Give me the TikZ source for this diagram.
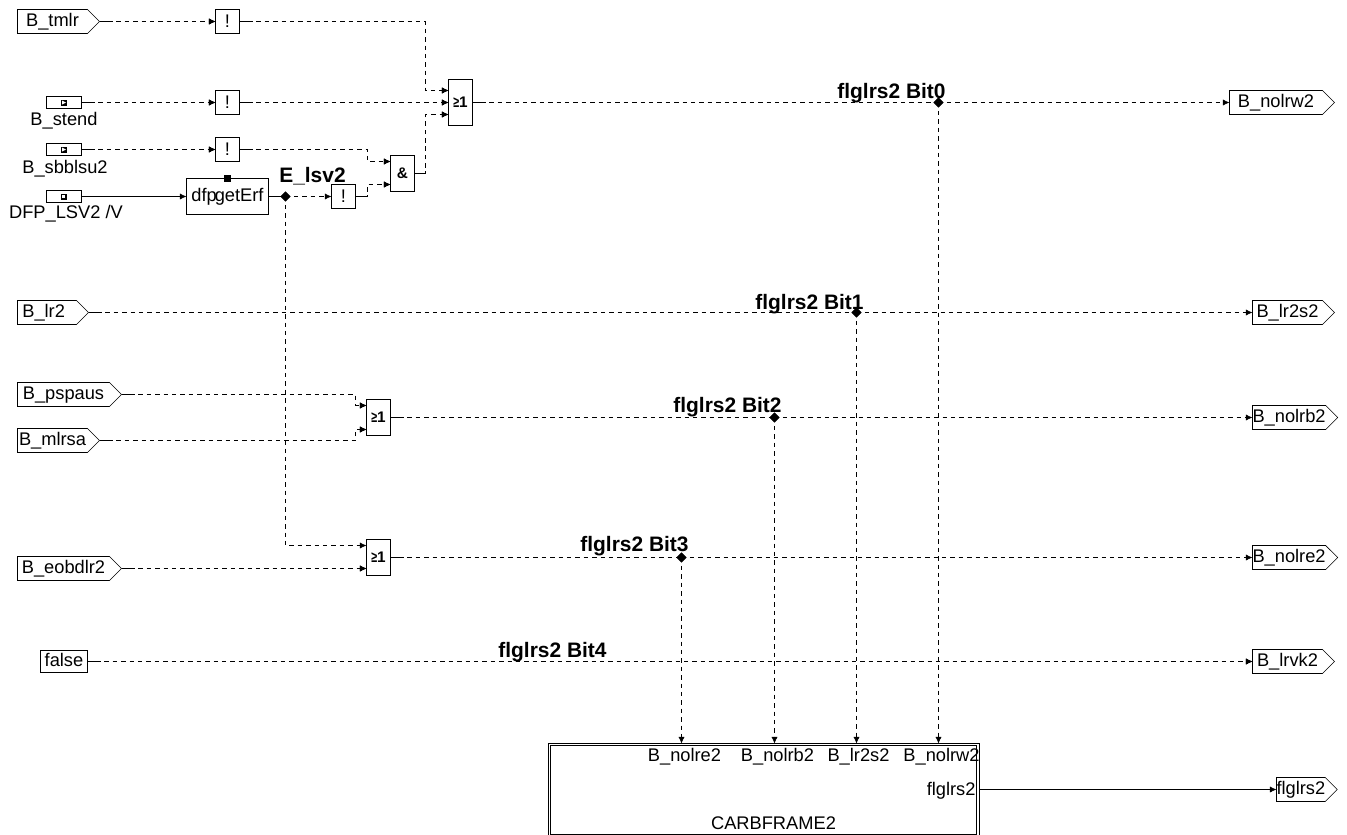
\documentclass[tikz,border=0pt]{standalone}
\usepackage{fontspec}
\usepackage{graphicx}
\setmainfont{Liberation Sans}
\usetikzlibrary{arrows.meta,shapes.geometric,shapes.symbols}
\tikzset{
  x=0.75pt,y=-0.75pt,
  every node/.style={font=\fontsize{13.7pt}{15pt}\selectfont,inner sep=0pt,outer sep=0pt},
  line width=0.75pt,
  sig/.style={draw,signal,signal to=east,signal from=nowhere,signal pointer angle=90,minimum height=18pt,inner xsep=0pt,anchor=west,text height=10pt,text depth=1.8pt},
  notgate/.style={draw,minimum width=18pt,minimum height=18pt},
  gate/.style={draw,minimum width=18pt,font=\fontsize{11.5pt}{12pt}\selectfont\bfseries},
  tinybox/.style={draw,minimum width=26.25pt,minimum height=9pt},
  marker/.style={draw,fill=black,minimum size=4.5pt},
  junction/.style={draw,diamond,fill=black,minimum size=7pt,aspect=1},
  sigl/.style={font=\fontsize{15.7pt}{17pt}\selectfont\bfseries},
  tip/.style={-{Latex[length=5pt,width=4.6pt]}},
  dashw/.style={dash pattern=on 3.4pt off 2.9pt},
  wire/.style={tip,dashw},
  swire/.style={wire,preaction={draw,dash pattern=on 10pt off 3000pt}},
  jwire/.style={dashw,preaction={draw,dash pattern=on 10pt off 3000pt}},
  solidw/.style={tip},
}
\newcommand{\gesym}{\scalebox{.7}[1]{≥}1}
\begin{document}
\begin{tikzpicture}
\useasboundingbox (-0.5,-0.5) rectangle (1346.5,834.5);
% inputs
\node[sig,minimum width=61.5pt] (tmlr) at (17,21) {B\_tmlr};
\node[tinybox] (stend) at (63.5,102) {};
\fill[black] (60.5,99) rectangle (66.5,105);
\fill[white] (61.5,100) -- (65.5,102) -- (61.5,104) -- cycle;
\node (stendt) at (63.5,120.5) {B\_stend};
\node[tinybox] (sbb) at (63.5,149) {};
\fill[black] (60.5,146) rectangle (66.5,152);
\fill[white] (61.5,147) -- (65.5,149) -- (61.5,151) -- cycle;
\node (sbbt) at (64.5,168) {B\_sbblsu2};
\node[tinybox] (dfp) at (63.5,196) {};
\fill[black] (60.5,193) rectangle (66.5,199);
\fill[white] (61.5,194) rectangle (64.5,197);
\node (dfpt) at (65.5,213.5) {DFP\_LSV2 /V};
\node[sig,minimum width=53.25pt] (lr) at (17,312) {B\_lr2\kern5pt};
\node[sig,minimum width=78pt] (pspaus) at (17,394) {B\_pspaus};
\node[sig,minimum width=61.5pt] (mlrsa) at (17,440) {B\_mlrsa};
\node[sig,minimum width=78pt] (eobd) at (17,568) {B\_eobdlr2};
\node[draw,minimum width=35.25pt,minimum height=16.5pt,text height=10pt,text depth=1.8pt] (false) at (63.5,661) {false};
% gates
\node[notgate] (n1) at (227,21) {!};
\node[notgate] (n2) at (227,102) {!};
\node[notgate] (n3) at (227,149) {!};
\node[notgate] (n4) at (343,196) {!};
\node[gate,minimum height=34.5pt] (or1) at (460,102) {\gesym};
\node[gate,minimum height=27pt] (and) at (402,173) {\&};
\node[gate,minimum height=27pt] (or2) at (378,417) {\gesym};
\node[gate,minimum height=27pt] (or3) at (378,557) {\gesym};
\node[draw,minimum width=61.5pt,minimum height=27pt] (erf) at (227,196) {dfp\kern-1.5pt getErf};
\node[marker] (erfm) at (227,178) {};
% junctions
\node[junction] (je) at (285,196) {};
\node[junction] (j0) at (938,102) {};
\node[junction] (j1) at (856,312) {};
\node[junction] (j2) at (774,417) {};
\node[junction] (j3) at (681,557) {};
% outputs
\node[sig,minimum width=78.75pt] (nolrw) at (1229,102) {B\_nolrw2};
\node[sig,minimum width=61.5pt] (lr2s) at (1252,312) {B\_lr2s2};
\node[sig,minimum width=61.5pt] (nolrb) at (1252,417) {B\_nolrb2};
\node[sig,minimum width=61.5pt] (nolre) at (1252,557) {B\_nolre2};
\node[sig,minimum width=61.5pt] (lrvk) at (1252,661) {B\_lrvk2};
\node[sig,minimum width=43.5pt] (flg) at (1276,789) {flglrs2};
% frame
\node[draw,minimum width=323.25pt,minimum height=70.5pt] (frame) at (763,790) {};
\node[draw,minimum width=319.5pt,minimum height=66.4pt] (framei) at (763,789.5) {};
\node (pe) at (684,756) {B\_nolre2};
\node (pb) at (777,756) {B\_nolrb2};
\node (ps) at (858,756) {B\_lr2s2};
\node (pw) at (941,756) {B\_nolrw2};
\node[anchor=east] (pf) at (975,790) {flglrs2};
\node (pc) at (773,822.5) {CARBFRAME2};
% signal labels
\node[sigl] (le) at (312,175.5) {E\_lsv2};
\node[sigl] (l0) at (891,92.5) {flglrs2 Bit0};
\node[sigl] (l1) at (809,303.5) {flglrs2 Bit1};
\node[sigl] (l2) at (727,407) {flglrs2 Bit2};
\node[sigl] (l3) at (634,546) {flglrs2 Bit3};
\node[sigl] (l4) at (552,652) {flglrs2 Bit4};
% pins
\coordinate (or1a) at (448,90);
\coordinate (or1b) at (448,102);
\coordinate (or1c) at (448,114);
\coordinate (anda) at (390,161);
\coordinate (andb) at (390,184);
\coordinate (or2a) at (366,405);
\coordinate (or2b) at (366,429);
\coordinate (or3a) at (366,545);
\coordinate (or3b) at (366,568);
\coordinate (r1) at (425,21);
\coordinate (r2) at (425,173);
\coordinate (r3) at (367,149);
\coordinate (r4) at (367,196);
\coordinate (r5) at (355,394);
\coordinate (r6) at (355,440);
% wires
\draw[swire] (tmlr.east) -- (n1.west);
\draw[swire] (stend.east) -- (n2.west);
\draw[swire] (sbb.east) -- (n3.west);
\draw[solidw] (dfp.east) -- (erf.west);
\draw (erf.east) -- (je.center);
\draw[wire] (je.center) -- (n4.west);
\draw[swire] (n1.east) -- (r1) -- (r1 |- or1a) -- (or1a);
\draw[swire] (n2.east) -- (or1b);
\draw[swire] (n3.east) -- (r3) -- (r3 |- anda) -- (anda);
\draw[swire] (n4.east) -- (r4) -- (r4 |- andb) -- (andb);
\draw[swire] (and.east) -- (r2) -- (r2 |- or1c) -- (or1c);
\draw[jwire] (or1.east) -- (j0.center);
\draw[wire] (j0.center) -- (nolrw.west);
\draw[jwire] (lr.east) -- (j1.center);
\draw[wire] (j1.center) -- (lr2s.west);
\draw[swire] (pspaus.east) -- (r5) -- (r5 |- or2a) -- (or2a);
\draw[swire] (mlrsa.east) -- (r6) -- (r6 |- or2b) -- (or2b);
\draw[jwire] (or2.east) -- (j2.center);
\draw[wire] (j2.center) -- (nolrb.west);
\draw[wire] (je.center) -- (je.center |- or3a) -- (or3a);
\draw[swire] (eobd.east) -- (or3b);
\draw[jwire] (or3.east) -- (j3.center);
\draw[wire] (j3.center) -- (nolre.west);
\draw[swire] (false.east) -- (lrvk.west);
\draw[wire] (j0.center) -- (frame.north -| j0);
\draw[wire] (j1.center) -- (frame.north -| j1);
\draw[wire] (j2.center) -- (frame.north -| j2);
\draw[wire] (j3.center) -- (frame.north -| j3);
\draw[solidw] (frame.east |- flg) -- (flg.west);
\end{tikzpicture}
\end{document}
